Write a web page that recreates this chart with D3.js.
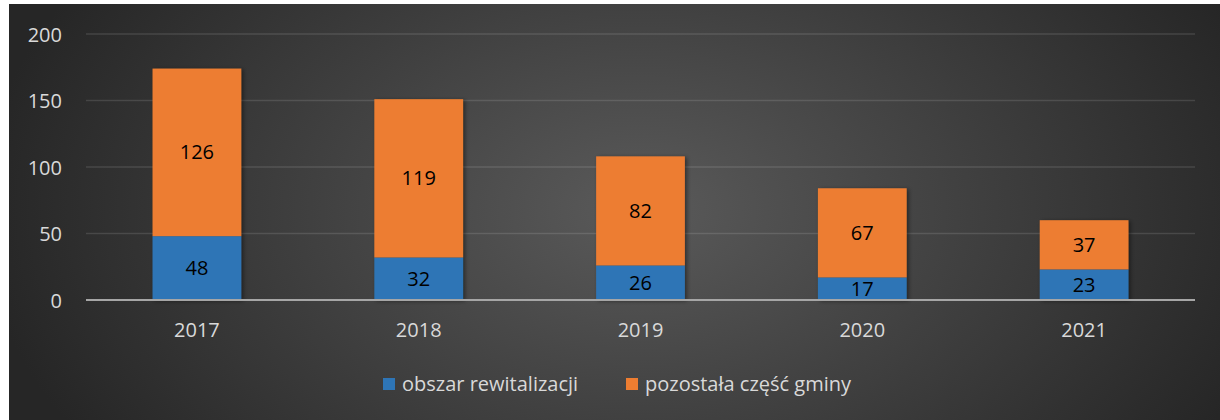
<!DOCTYPE html>
<html>
<head>
<meta charset="utf-8">
<script src="https://cdn.jsdelivr.net/npm/d3@7"></script>
<style>
  html, body { margin: 0; padding: 0; background: #ffffff; }
  svg { display: block; }
  text { font-family: "Open Sans", Lato, sans-serif; }
</style>
</head>
<body>
<svg id="chart" width="1220" height="420"></svg>
<script>
// Number of cases per year, split by area
const years = ["2017", "2018", "2019", "2020", "2021"];
const obszarRewitalizacji = [48, 32, 26, 17, 23];
const pozostalaCzescGminy = [126, 119, 82, 67, 37];
const seriesNames = ["obszar rewitalizacji", "pozostała część gminy"];
const seriesColors = ["#2E75B6", "#ED7D31"];
const yTicks = [0, 50, 100, 150, 200];

const svg = d3.select("#chart");
const W = 1220, H = 420;

// Dark panel with a soft radial highlight
const defs = svg.append("defs");
const grad = defs.append("radialGradient")
  .attr("id", "bg")
  .attr("gradientUnits", "userSpaceOnUse")
  .attr("cx", 640).attr("cy", 210).attr("r", 660)
  .attr("gradientTransform", "translate(640,210) scale(1,0.65) translate(-640,-210)");
grad.append("stop").attr("offset", "0%").attr("stop-color", "#5a5a5a");
grad.append("stop").attr("offset", "100%").attr("stop-color", "#262626");

const shadow = defs.append("filter").attr("id", "barShadow")
  .attr("x", "-10%").attr("y", "-10%").attr("width", "130%").attr("height", "130%");
shadow.append("feDropShadow")
  .attr("dx", 2).attr("dy", 1).attr("stdDeviation", 2)
  .attr("flood-color", "#000").attr("flood-opacity", 0.45);

svg.append("rect")
  .attr("x", 9).attr("y", 4)
  .attr("width", W - 9).attr("height", H - 4)
  .attr("fill", "url(#bg)");

const plot = { left: 86, right: 1195, top: 34, bottom: 300 };

const x = d3.scaleBand()
  .domain(years)
  .range([plot.left, plot.right])
  .paddingInner(0.6)
  .paddingOuter(0.3);

const y = d3.scaleLinear()
  .domain([0, 200])
  .range([plot.bottom, plot.top]);

// Gridlines
svg.append("g")
  .selectAll("line")
  .data(yTicks.filter(d => d > 0))
  .join("line")
  .attr("x1", plot.left).attr("x2", plot.right)
  .attr("y1", d => y(d)).attr("y2", d => y(d))
  .attr("stroke", "#ffffff").attr("stroke-opacity", 0.12)
  .attr("stroke-width", 1.3);

// Y axis labels
const yAxis = d3.axisLeft(y).tickValues(yTicks).tickSize(0).tickPadding(0);
const gy = svg.append("g")
  .attr("transform", `translate(62,0)`)
  .call(yAxis);
gy.select(".domain").remove();
gy.selectAll("text")
  .attr("fill", "#d9d9d9")
  .attr("font-size", 20)
  .attr("dy", "0.35em");

// Stacked bars
const rows = years.map((yr, i) => ({
  year: yr,
  [seriesNames[0]]: obszarRewitalizacji[i],
  [seriesNames[1]]: pozostalaCzescGminy[i]
}));
const stacked = d3.stack().keys(seriesNames)(rows);

const barGroup = svg.append("g").attr("filter", "url(#barShadow)");
stacked.forEach((layer, si) => {
  barGroup.append("g")
    .selectAll("rect")
    .data(layer)
    .join("rect")
    .attr("x", d => x(d.data.year))
    .attr("width", x.bandwidth())
    .attr("y", d => y(d[1]))
    .attr("height", d => y(d[0]) - y(d[1]))
    .attr("fill", seriesColors[si]);
});

// Value labels centred in each segment
stacked.forEach((layer) => {
  svg.append("g")
    .selectAll("text")
    .data(layer)
    .join("text")
    .attr("x", d => x(d.data.year) + x.bandwidth() / 2)
    .attr("y", d => (y(d[0]) + y(d[1])) / 2)
    .attr("dy", "0.35em")
    .attr("text-anchor", "middle")
    .attr("font-size", 20)
    .attr("fill", "#000000")
    .text(d => d[1] - d[0]);
});

// Baseline
svg.append("line")
  .attr("x1", plot.left).attr("x2", plot.right)
  .attr("y1", y(0)).attr("y2", y(0))
  .attr("stroke", "#a6a6a6").attr("stroke-width", 2);

// Category axis
const xAxis = d3.axisBottom(x).tickSize(0).tickPadding(0);
const gx = svg.append("g")
  .attr("transform", `translate(0,${plot.bottom})`)
  .call(xAxis);
gx.select(".domain").remove();
gx.selectAll("text")
  .attr("fill", "#d9d9d9")
  .attr("font-size", 20)
  .attr("dy", "0")
  .attr("y", 32)
  .attr("dominant-baseline", "middle");

// Legend
const legendItems = [
  { name: seriesNames[0], color: seriesColors[0], x: 383 },
  { name: seriesNames[1], color: seriesColors[1], x: 626 }
];
const legend = svg.append("g");
legendItems.forEach(item => {
  legend.append("rect")
    .attr("x", item.x).attr("y", 378)
    .attr("width", 12).attr("height", 12)
    .attr("fill", item.color);
  legend.append("text")
    .attr("x", item.x + 19).attr("y", 384)
    .attr("dy", "0.35em")
    .attr("font-size", 20)
    .attr("fill", "#d9d9d9")
    .text(item.name);
});
</script>
</body>
</html>
